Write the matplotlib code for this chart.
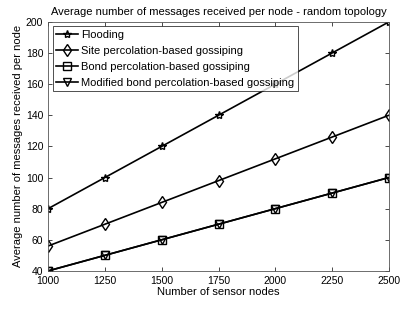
import matplotlib
matplotlib.use('Agg')
import matplotlib.pyplot as plt

nodes = [1000, 1250, 1500, 1750, 2000, 2250, 2500]
flooding = [80, 100, 120, 140, 160, 180, 200]
site = [56, 70, 84, 98, 112, 126, 140]
bond = [40, 50, 60, 70, 80, 90, 100]
modified = [40, 50, 60, 70, 80, 90, 100]

plt.rcParams['font.family'] = ['Liberation Sans', 'DejaVu Sans']

fig = plt.figure(figsize=(4.01, 3.26), dpi=100)
ax = fig.add_axes([0.12, 0.169, 0.85, 0.764])

kw = dict(color='black', lw=1.2, markersize=6, markerfacecolor='none', markeredgewidth=1)
ax.plot(nodes, flooding, marker='*', label='Flooding', **kw)
ax.plot(nodes, site, marker='d', label='Site percolation-based gossiping', **kw)
ax.plot(nodes, bond, marker='s', label='Bond percolation-based gossiping', **kw)
ax.plot(nodes, modified, marker='v', label='Modified bond percolation-based gossiping', **kw)

ax.set_xlim(1000, 2500)
ax.set_ylim(40, 200)
ax.set_xticks(nodes)
ax.set_yticks(range(40, 201, 20))
ax.tick_params(direction='in', top=True, right=True, labelsize=7.5, length=3, width=0.5)
for s in ax.spines.values():
    s.set_linewidth(0.6)
    s.set_color('#555555')

ax.set_xlabel('Number of sensor nodes', fontsize=8, labelpad=1)
ax.set_ylabel('Average number of messages received per node', fontsize=8, labelpad=2)
ax.set_title('Average number of messages received per node - random topology', fontsize=8, pad=5)

leg = ax.legend(loc='upper left', fontsize=8, fancybox=False, edgecolor='black',
                handlelength=2, borderaxespad=0.4, labelspacing=0.55, handletextpad=0.3,
                borderpad=0.3)
leg.get_frame().set_linewidth(0.6)

fig.savefig('out.png', dpi=100)
